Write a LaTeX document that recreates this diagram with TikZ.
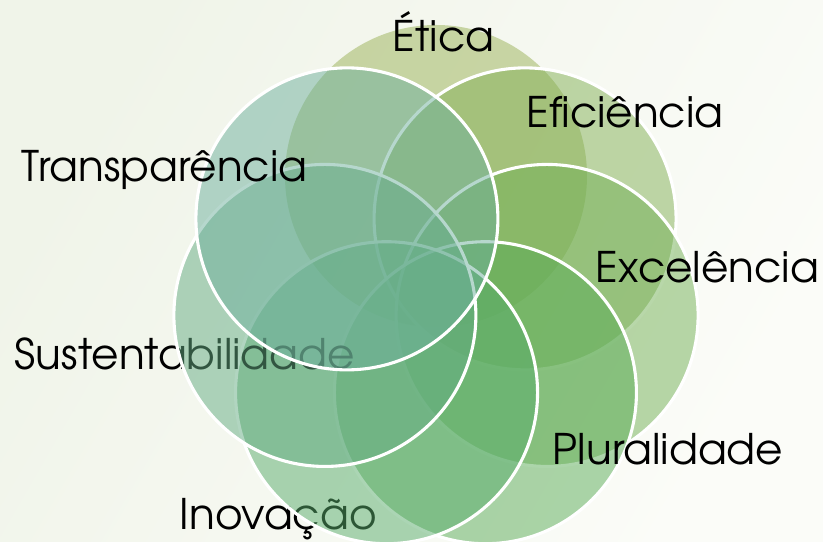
\documentclass[tikz,border=0pt]{standalone}
\usepackage{fontspec}
\setmainfont{texgyreadventor-regular.otf}
\usepackage{tikz}
\usetikzlibrary{positioning}
\definecolor{bgdark}{RGB}{240,244,233}
\definecolor{bglight}{RGB}{251,252,248}
\definecolor{eticagreen}{RGB}{154,178,87}
\definecolor{eficgreen}{RGB}{130,176,85}
\definecolor{excelgreen}{RGB}{114,176,85}
\definecolor{pluralgreen}{RGB}{90,172,87}
\definecolor{inovgreen}{RGB}{88,172,107}
\definecolor{sustgreen}{RGB}{100,172,131}
\definecolor{transpgreen}{RGB}{110,176,157}

\begin{document}
\begin{tikzpicture}[
    petal/.style={circle, draw=white, line width=2.2pt, fill opacity=0.5, minimum size=7.55cm, inner sep=0pt},
    word/.style={anchor=base west, font=\fontsize{30}{31}\selectfont, text=black}
]

% Background
\useasboundingbox (-10.9,-6.3) rectangle (9.675,7.25);
\shade[left color=bgdark, right color=bglight, shading angle=60]
    (-10.9,-6.3) rectangle (9.675,7.25);

% Circles
\node[petal, draw=none, fill=eticagreen] (etica) at (90:2.85) {};
\node[petal, fill=eficgreen] (efic) at (38.6:2.85) {};
\node[petal, fill=excelgreen] (excel) at (-12.9:2.85) {};
\node[petal, fill=pluralgreen] (plural) at (-64.3:2.85) {};
\node[word] (inovlabel) at (-6.525,-6.0) {Inovação};
\node[petal, fill=inovgreen] (inov) at (-115.7:2.85) {};
\node[word] (sustlabel) at (-10.65,-2.0) {Sustentabilidade};
\node[petal, fill=sustgreen] (sust) at (-167.1:2.85) {};
\node[petal, fill=transpgreen] (transp) at (141.4:2.85) {};

% Labels
\node[word] (eticalabel) at (-1.2,5.95) {Ética};
\node[word] (eficlabel) at (2.15,4.05) {Eficiência};
\node[word] (transplabel) at (-10.475,2.7) {Transparência};
\node[word] (excellabel) at (3.875,0.175) {Excelência};
\node[word] (plurallabel) at (2.8,-4.375) {Pluralidade};

\end{tikzpicture}
\end{document}
